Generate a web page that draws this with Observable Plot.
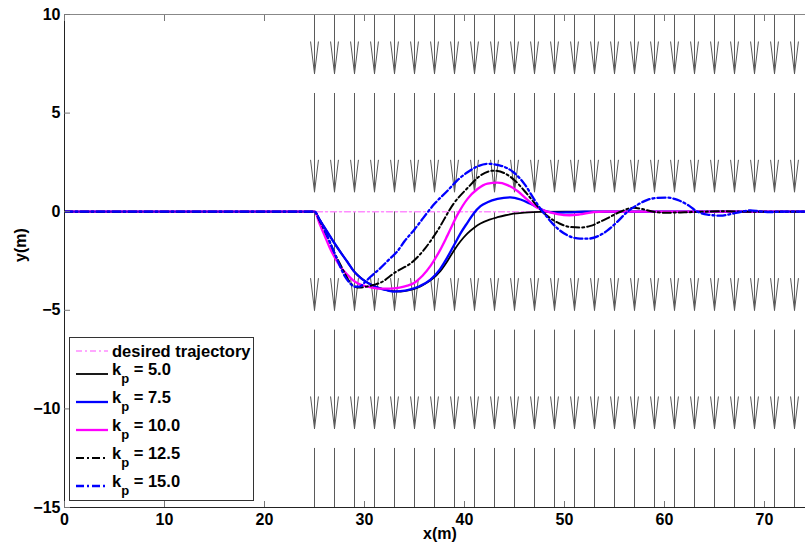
<!DOCTYPE html>
<html>
<head>
<meta charset="utf-8">
<script src="https://cdn.jsdelivr.net/npm/d3@7"></script>
<script src="https://cdn.jsdelivr.net/npm/@observablehq/plot@0.6"></script>
<style>
  html, body { margin: 0; padding: 0; background: #fff; }
  #wrap { position: relative; width: 805px; height: 548px; overflow: hidden; }
  #wrap svg { position: absolute; left: 0; top: 0; }
</style>
</head>
<body>
<div id="wrap"></div>
<script>
// ---------- data ----------
const xDomain = [0, 74.1];
const yDomain = [-15, 10];
const xTicks = [0, 10, 20, 30, 40, 50, 60, 70];
const yTicks = [10, 5, 0, -5, -10, -15];

// wind field (quiver arrows)
const windX = [25, 27, 29, 31, 33, 35, 37, 39, 41, 43, 45, 47, 49, 51, 53, 55, 57, 59, 61, 63, 65, 67, 69, 71, 73];
const windY = [12, 6, 0, -6, -12];
const windLen = 5;

const desiredX = [0, 74.1];
const desiredY = [0, 0];

const kp5X = [0, 25, 25.5, 26, 26.5, 27, 27.6, 28.3, 29, 29.8, 30.5, 31.3, 32, 32.8, 33.6, 34.5, 35.3, 35.9, 36.8, 37.6, 38.3, 38.9, 39.6, 40.3, 41, 41.6, 42.5, 43.3, 44.1, 44.9, 46, 47.6, 50, 74.1];
const kp5Y = [0, 0, -0.4, -0.8, -1.2, -1.6, -2.05, -2.55, -3.05, -3.42, -3.65, -3.84, -3.95, -4.03, -4.05, -3.98, -3.85, -3.7, -3.4, -3.0, -2.5, -2.0, -1.5, -1.1, -0.8, -0.6, -0.4, -0.28, -0.18, -0.1, -0.05, -0.01, 0, 0];

const kp75X = [0, 25, 25.5, 26, 26.5, 27, 27.6, 28.3, 28.9, 29.6, 30.3, 31, 31.6, 32.3, 32.9, 33.6, 34.5, 35.5, 36.6, 37.5, 38.3, 39, 39.6, 40.3, 40.9, 41.6, 42.3, 43.3, 44.6, 45.6, 46.6, 47.6, 48.3, 49.2, 50.5, 52, 74.1];
const kp75Y = [0, 0, -0.4, -0.8, -1.2, -1.6, -2.05, -2.55, -3.0, -3.35, -3.6, -3.78, -3.9, -3.99, -4.05, -4.03, -3.95, -3.78, -3.45, -2.95, -2.3, -1.65, -1.1, -0.55, -0.1, 0.28, 0.48, 0.65, 0.73, 0.62, 0.4, 0.15, 0.0, -0.05, -0.03, 0, 0];

const kp10X = [0, 25, 25.5, 26, 26.5, 27, 27.6, 28.3, 28.9, 29.6, 30.3, 31, 31.6, 32.5, 33.5, 34.3, 35, 35.8, 36.6, 37.5, 38.3, 39.3, 40.3, 41.3, 42.3, 43.3, 44.3, 45.3, 46.3, 47.3, 48.3, 49.3, 50.5, 51.5, 52.9, 54, 74.1];
const kp10Y = [0, 0, -0.6, -1.2, -1.8, -2.3, -2.8, -3.2, -3.5, -3.7, -3.8, -3.87, -3.9, -3.9, -3.85, -3.75, -3.6, -3.25, -2.75, -2.0, -1.2, -0.15, 0.65, 1.15, 1.42, 1.47, 1.35, 1.05, 0.6, 0.2, 0.0, -0.12, -0.18, -0.14, -0.02, 0, 0];

const kp125X = [0, 25, 25.5, 26, 26.5, 27, 27.5, 28, 28.5, 29, 29.5, 30.2, 31, 31.6, 33, 34.9, 36, 37.3, 38.9, 40.3, 41.5, 42.9, 44, 45, 46, 47, 47.8, 48.5, 49.5, 50.5, 51.6, 52.6, 53.6, 54.6, 55.6, 56.9, 57.9, 58.9, 60, 62, 64, 66, 68, 74.1];
const kp125Y = [0, 0, -0.45, -0.95, -1.5, -2.1, -2.6, -3.1, -3.55, -3.8, -3.85, -3.8, -3.7, -3.6, -3.1, -2.5, -1.9, -0.96, 0.4, 1.2, 1.8, 2.08, 1.95, 1.6, 1.05, 0.45, 0.0, -0.3, -0.6, -0.77, -0.8, -0.72, -0.5, -0.25, 0, 0.2, 0.12, 0, -0.05, -0.03, 0, 0.02, 0, 0];

const kp15X = [0, 25, 25.5, 26, 26.5, 27, 27.5, 28, 28.5, 29, 29.5, 30, 30.6, 31.5, 32.5, 33.3, 34, 35, 35.9, 37, 38.3, 39.3, 40.3, 41.3, 42.3, 43.5, 44.9, 46, 47, 47.6, 48.3, 49.3, 50.3, 51.3, 52.3, 53.3, 54.3, 55.3, 56.3, 57.3, 58.3, 59.3, 60.3, 61.3, 62.3, 63.3, 64.3, 65.6, 66.6, 67.7, 68.6, 69.5, 70.5, 72, 74.1];
const kp15Y = [0, 0, -0.4, -0.9, -1.5, -2.1, -2.7, -3.25, -3.6, -3.8, -3.8, -3.6, -3.3, -2.9, -2.4, -2.0, -1.5, -0.9, -0.3, 0.4, 1.06, 1.6, 2.0, 2.3, 2.43, 2.35, 2.0, 1.4, 0.6, 0.15, -0.3, -0.85, -1.2, -1.35, -1.37, -1.25, -0.95, -0.5, 0, 0.35, 0.6, 0.7, 0.71, 0.6, 0.35, 0, -0.15, -0.2, -0.12, 0, 0.07, 0.02, -0.02, 0, 0];

const seriesNames = ["desired trajectory", "5.0", "7.5", "10.0", "12.5", "15.0"];
const seriesColors = ["#ff8cff", "#000000", "#0000ff", "#ff00ff", "#000000", "#0000ff"];
const seriesDash = ["6,3,2,3", null, null, null, "8,3,2,3", "8,3,2,3"];
const seriesWidth = [1.5, 1.8, 2.3, 2.3, 2, 2.3];
const seriesX = [desiredX, kp5X, kp75X, kp10X, kp125X, kp15X];
const seriesY = [desiredY, kp5Y, kp75Y, kp10Y, kp125Y, kp15Y];

// ---------- build ----------
const arrows = [];
for (const x of windX) for (const y of windY) arrows.push({x, y1: y, y2: y - windLen});

const rows = seriesX.map((xs, i) => xs.map((x, j) => ({x, y: seriesY[i][j]})));

const FONT = "'Liberation Sans', Arial, Helvetica, sans-serif";
const fmt = d => d < 0 ? "\u2212" + Math.abs(d) : String(d);

const lineMarks = rows.map((data, i) => Plot.line(data, {
  x: "x", y: "y", stroke: seriesColors[i], strokeWidth: seriesWidth[i],
  strokeDasharray: seriesDash[i] || undefined, curve: "monotone-x", clip: true
}));

const chart = Plot.plot({
  width: 805, height: 548,
  marginLeft: 64, marginRight: 0, marginTop: 14, marginBottom: 41,
  x: {domain: xDomain, axis: null},
  y: {domain: yDomain, axis: null},
  style: {fontFamily: FONT, background: "white"},
  marks: [
    Plot.arrow(arrows, {x1: "x", x2: "x", y1: "y1", y2: "y2", stroke: "#5a5a5a", strokeWidth: 1, headAngle: 14, headLength: 48, clip: true}),
    ...lineMarks,
    Plot.ruleY([yDomain[1]], {stroke: "#888"}),
    Plot.ruleY([yDomain[0]], {stroke: "#222"}),
    Plot.ruleX([xDomain[0]], {stroke: "#222"}),
    Plot.axisX(xTicks, {anchor: "bottom", tickSize: -6, stroke: "#777", tickFormat: () => "", label: null}),
    Plot.axisX(xTicks, {anchor: "top", tickSize: -6, stroke: "#777", tickFormat: () => "", label: null}),
    Plot.axisY(yTicks, {anchor: "left", tickSize: -6, stroke: "#777", tickFormat: () => "", label: null}),
    Plot.axisX(xTicks, {anchor: "bottom", tickSize: 0, tickPadding: 6, fontSize: 16, fontWeight: "bold", fill: "#000", tickFormat: fmt, label: null}),
    Plot.axisY(yTicks, {anchor: "left", tickSize: 0, tickPadding: 4, fontSize: 16, fontWeight: "bold", fill: "#000", tickFormat: fmt, label: null}),
    Plot.text(["x(m)"], {frameAnchor: "bottom", dx: 5, dy: 31, fontSize: 16, fontWeight: "bold", fill: "#000"}),
    Plot.text(["y(m)"], {frameAnchor: "left", rotate: -90, dx: -44, dy: 1, fontSize: 16, fontWeight: "bold", fill: "#000"})
  ]
});
document.getElementById("wrap").appendChild(chart);

// ---------- legend overlay ----------
const leg = d3.select("#wrap").append("svg")
  .attr("width", 805).attr("height", 548)
  .style("pointer-events", "none")
  .attr("font-family", FONT).attr("font-weight", "bold");
leg.append("rect").attr("x", 69.5).attr("y", 337.5).attr("width", 184).attr("height", 163)
  .attr("fill", "white").attr("stroke", "#333").attr("stroke-width", 1);
const lineYs = [351, 374, 402, 430, 458, 486];
seriesNames.forEach((name, i) => {
  const ly = lineYs[i];
  leg.append("line").attr("x1", 76).attr("x2", 108).attr("y1", ly).attr("y2", ly)
    .attr("stroke", seriesColors[i]).attr("stroke-width", seriesWidth[i])
    .attr("stroke-dasharray", seriesDash[i]);
  if (i === 0) {
    leg.append("text").attr("x", 112).attr("y", ly + 6).attr("font-size", 16.5).text(name);
  } else {
    const t = leg.append("text").attr("x", 112).attr("y", ly + 1).attr("font-size", 16.5);
    t.append("tspan").text("k");
    t.append("tspan").attr("font-size", 13).attr("dy", 8).text("p");
    t.append("tspan").attr("dy", -8).text(" = " + name);
  }
});
</script>
</body>
</html>
